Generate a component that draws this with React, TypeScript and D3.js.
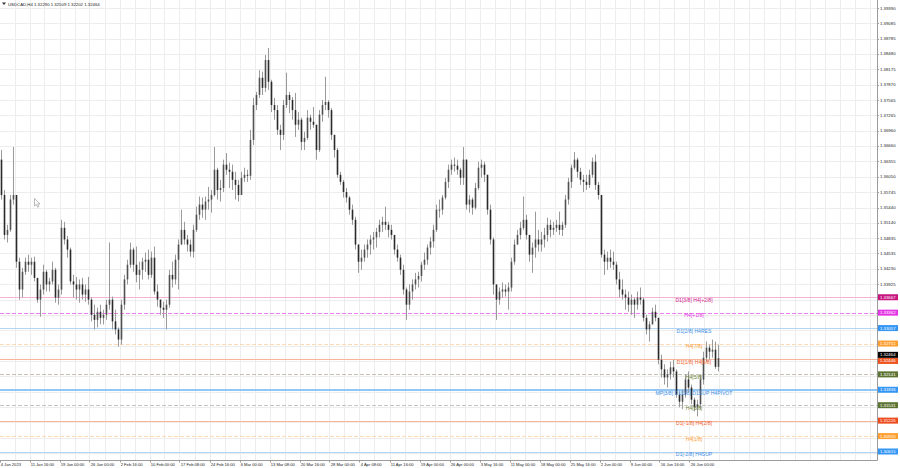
import React from "react";
import * as d3 from "d3";

// ---- OHLC data (H4 USDCAD, aggregated bars) ----
const firstOpen = 1.3639;
const highs = [
  1.3658, 1.3579, 1.3510, 1.3569, 1.3664, 1.3560, 1.3445, 1.3425, 1.3445, 1.3451,
  1.3445, 1.3447, 1.3402, 1.3392, 1.3431, 1.3421, 1.3405, 1.3437, 1.3425, 1.3392,
  1.3520, 1.3516, 1.3488, 1.3465, 1.3411, 1.3407, 1.3402, 1.3405, 1.3392, 1.3407,
  1.3366, 1.3352, 1.3346, 1.3352, 1.3342, 1.3362, 1.3475, 1.3368, 1.3342, 1.3307,
  1.3362, 1.3411, 1.3441, 1.3475, 1.3465, 1.3467, 1.3437, 1.3445, 1.3455, 1.3461,
  1.3457, 1.3467, 1.3392, 1.3362, 1.3358, 1.3362, 1.3421, 1.3437, 1.3451, 1.3481,
  1.3540, 1.3516, 1.3490, 1.3481, 1.3510, 1.3546, 1.3566, 1.3564, 1.3566, 1.3585,
  1.3579, 1.3664, 1.3623, 1.3599, 1.3639, 1.3652, 1.3633, 1.3629, 1.3615, 1.3599,
  1.3615, 1.3623, 1.3619, 1.3698, 1.3761, 1.3773, 1.3816, 1.3813, 1.3846, 1.3860,
  1.3797, 1.3761, 1.3747, 1.3708, 1.3757, 1.3811, 1.3773, 1.3763, 1.3771, 1.3733,
  1.3722, 1.3694, 1.3737, 1.3728, 1.3743, 1.3708, 1.3737, 1.3757, 1.3803, 1.3757,
  1.3741, 1.3688, 1.3662, 1.3615, 1.3599, 1.3583, 1.3567, 1.3550, 1.3526, 1.3471,
  1.3461, 1.3471, 1.3481, 1.3490, 1.3496, 1.3504, 1.3520, 1.3526, 1.3546, 1.3516,
  1.3510, 1.3490, 1.3471, 1.3451, 1.3431, 1.3386, 1.3392, 1.3402, 1.3415, 1.3417,
  1.3437, 1.3455, 1.3471, 1.3486, 1.3510, 1.3550, 1.3560, 1.3569, 1.3603, 1.3629,
  1.3639, 1.3643, 1.3639, 1.3623, 1.3664, 1.3639, 1.3569, 1.3564, 1.3593, 1.3635,
  1.3639, 1.3635, 1.3609, 1.3550, 1.3485, 1.3392, 1.3386, 1.3396, 1.3392, 1.3396,
  1.3445, 1.3481, 1.3500, 1.3516, 1.3566, 1.3530, 1.3490, 1.3475, 1.3536, 1.3500,
  1.3496, 1.3504, 1.3524, 1.3520, 1.3516, 1.3520, 1.3536, 1.3516, 1.3569, 1.3603,
  1.3629, 1.3654, 1.3643, 1.3623, 1.3609, 1.3609, 1.3619, 1.3643, 1.3649, 1.3595,
  1.3569, 1.3461, 1.3457, 1.3461, 1.3457, 1.3437, 1.3417, 1.3402, 1.3382, 1.3378,
  1.3372, 1.3366, 1.3378, 1.3386, 1.3366, 1.3332, 1.3319, 1.3346, 1.3352, 1.3326,
  1.3253, 1.3234, 1.3224, 1.3239, 1.3243, 1.3224, 1.3180, 1.3184, 1.3214, 1.3220,
  1.3194, 1.3168, 1.3164, 1.3214, 1.3259, 1.3279, 1.3273, 1.3283, 1.3279, 1.3273,
];
const lows = [
  1.3560, 1.3481, 1.3475, 1.3496, 1.3550, 1.3425, 1.3362, 1.3366, 1.3411, 1.3417,
  1.3411, 1.3398, 1.3356, 1.3328, 1.3372, 1.3378, 1.3378, 1.3392, 1.3356, 1.3352,
  1.3372, 1.3471, 1.3445, 1.3392, 1.3366, 1.3362, 1.3356, 1.3362, 1.3358, 1.3352,
  1.3319, 1.3303, 1.3307, 1.3313, 1.3313, 1.3322, 1.3342, 1.3303, 1.3293, 1.3269,
  1.3273, 1.3342, 1.3392, 1.3425, 1.3417, 1.3396, 1.3382, 1.3402, 1.3417, 1.3402,
  1.3405, 1.3372, 1.3348, 1.3332, 1.3326, 1.3303, 1.3346, 1.3386, 1.3392, 1.3382,
  1.3471, 1.3471, 1.3457, 1.3447, 1.3445, 1.3496, 1.3520, 1.3524, 1.3520, 1.3540,
  1.3534, 1.3566, 1.3560, 1.3556, 1.3575, 1.3609, 1.3583, 1.3579, 1.3560, 1.3556,
  1.3569, 1.3595, 1.3595, 1.3599, 1.3668, 1.3737, 1.3761, 1.3767, 1.3773, 1.3777,
  1.3733, 1.3718, 1.3688, 1.3658, 1.3678, 1.3741, 1.3731, 1.3718, 1.3684, 1.3698,
  1.3658, 1.3658, 1.3678, 1.3698, 1.3702, 1.3639, 1.3654, 1.3714, 1.3737, 1.3722,
  1.3678, 1.3643, 1.3603, 1.3589, 1.3564, 1.3554, 1.3530, 1.3510, 1.3461, 1.3415,
  1.3421, 1.3437, 1.3445, 1.3451, 1.3461, 1.3465, 1.3485, 1.3496, 1.3500, 1.3485,
  1.3481, 1.3451, 1.3437, 1.3411, 1.3372, 1.3322, 1.3342, 1.3362, 1.3382, 1.3386,
  1.3398, 1.3421, 1.3431, 1.3451, 1.3465, 1.3496, 1.3524, 1.3530, 1.3560, 1.3583,
  1.3609, 1.3615, 1.3609, 1.3589, 1.3589, 1.3540, 1.3534, 1.3530, 1.3540, 1.3579,
  1.3603, 1.3595, 1.3530, 1.3471, 1.3372, 1.3322, 1.3352, 1.3366, 1.3368, 1.3342,
  1.3378, 1.3431, 1.3471, 1.3481, 1.3500, 1.3481, 1.3437, 1.3415, 1.3445, 1.3457,
  1.3457, 1.3465, 1.3477, 1.3485, 1.3490, 1.3496, 1.3490, 1.3488, 1.3504, 1.3550,
  1.3583, 1.3619, 1.3603, 1.3589, 1.3575, 1.3579, 1.3583, 1.3603, 1.3579, 1.3560,
  1.3445, 1.3411, 1.3421, 1.3425, 1.3421, 1.3392, 1.3366, 1.3362, 1.3342, 1.3338,
  1.3332, 1.3326, 1.3342, 1.3352, 1.3319, 1.3293, 1.3279, 1.3313, 1.3319, 1.3234,
  1.3208, 1.3194, 1.3188, 1.3204, 1.3208, 1.3168, 1.3149, 1.3145, 1.3168, 1.3180,
  1.3155, 1.3141, 1.3131, 1.3145, 1.3194, 1.3239, 1.3243, 1.3247, 1.3225, 1.3220,
];
const closes = [
  1.3569, 1.3490, 1.3500, 1.3560, 1.3569, 1.3437, 1.3382, 1.3417, 1.3437, 1.3431,
  1.3437, 1.3405, 1.3362, 1.3382, 1.3417, 1.3392, 1.3398, 1.3421, 1.3366, 1.3382,
  1.3504, 1.3481, 1.3461, 1.3398, 1.3392, 1.3382, 1.3392, 1.3372, 1.3382, 1.3362,
  1.3332, 1.3322, 1.3338, 1.3326, 1.3332, 1.3352, 1.3362, 1.3319, 1.3303, 1.3283,
  1.3352, 1.3402, 1.3431, 1.3461, 1.3431, 1.3411, 1.3421, 1.3437, 1.3441, 1.3411,
  1.3445, 1.3378, 1.3362, 1.3346, 1.3342, 1.3352, 1.3411, 1.3402, 1.3441, 1.3471,
  1.3500, 1.3481, 1.3471, 1.3457, 1.3500, 1.3530, 1.3550, 1.3540, 1.3556, 1.3560,
  1.3569, 1.3619, 1.3579, 1.3583, 1.3629, 1.3619, 1.3615, 1.3599, 1.3589, 1.3569,
  1.3603, 1.3609, 1.3607, 1.3678, 1.3747, 1.3767, 1.3801, 1.3781, 1.3836, 1.3793,
  1.3747, 1.3737, 1.3698, 1.3688, 1.3747, 1.3767, 1.3757, 1.3737, 1.3708, 1.3718,
  1.3674, 1.3682, 1.3722, 1.3714, 1.3708, 1.3658, 1.3728, 1.3747, 1.3753, 1.3737,
  1.3688, 1.3658, 1.3609, 1.3595, 1.3575, 1.3564, 1.3540, 1.3520, 1.3471, 1.3437,
  1.3445, 1.3461, 1.3471, 1.3481, 1.3485, 1.3496, 1.3510, 1.3516, 1.3510, 1.3500,
  1.3490, 1.3461, 1.3445, 1.3421, 1.3382, 1.3352, 1.3378, 1.3392, 1.3402, 1.3409,
  1.3431, 1.3441, 1.3465, 1.3477, 1.3500, 1.3540, 1.3540, 1.3564, 1.3595, 1.3619,
  1.3629, 1.3627, 1.3619, 1.3603, 1.3639, 1.3550, 1.3560, 1.3544, 1.3583, 1.3623,
  1.3629, 1.3609, 1.3540, 1.3481, 1.3392, 1.3362, 1.3378, 1.3382, 1.3378, 1.3386,
  1.3437, 1.3471, 1.3490, 1.3504, 1.3520, 1.3490, 1.3451, 1.3465, 1.3481, 1.3471,
  1.3481, 1.3490, 1.3510, 1.3500, 1.3504, 1.3510, 1.3500, 1.3510, 1.3560, 1.3595,
  1.3623, 1.3639, 1.3615, 1.3599, 1.3595, 1.3589, 1.3609, 1.3635, 1.3589, 1.3569,
  1.3451, 1.3437, 1.3445, 1.3437, 1.3431, 1.3402, 1.3382, 1.3372, 1.3366, 1.3352,
  1.3362, 1.3352, 1.3366, 1.3362, 1.3326, 1.3303, 1.3313, 1.3338, 1.3326, 1.3243,
  1.3224, 1.3208, 1.3214, 1.3228, 1.3220, 1.3174, 1.3160, 1.3174, 1.3204, 1.3188,
  1.3164, 1.3149, 1.3155, 1.3204, 1.3247, 1.3267, 1.3259, 1.3263, 1.3229, 1.32464,
];
const opens = [firstOpen, ...closes.slice(0, -1)];

// ---- price axis ----
const priceTicks = [
  1.3939, 1.39085, 1.38785, 1.3848, 1.38175, 1.3787, 1.37565, 1.37265, 1.3696, 1.3666,
  1.36355, 1.3605, 1.35745, 1.3544, 1.3514, 1.34835, 1.34535, 1.3423, 1.33925,
];
const hiddenGridPrices = [
  1.3362, 1.33315, 1.33015, 1.3271, 1.32405, 1.321, 1.318, 1.31495, 1.3119, 1.30885, 1.30585,
];

// ---- time axis ----
const timeLabels = [
  "4 Jan 2023", "11 Jan 16:00", "19 Jan 00:00", "26 Jan 00:00", "2 Feb 16:00", "10 Feb 00:00",
  "17 Feb 08:00", "24 Feb 16:00", "6 Mar 00:00", "13 Mar 08:00", "20 Mar 16:00", "28 Mar 00:00",
  "4 Apr 08:00", "11 Apr 16:00", "19 Apr 00:00", "26 Apr 00:00", "3 May 16:00", "11 May 00:00",
  "18 May 00:00", "25 May 16:00", "2 Jun 00:00", "9 Jun 00:00", "16 Jun 16:00", "26 Jun 00:00",
];
const timeLabelBars = [
  0, 10, 20, 30, 40, 50, 60, 70, 80, 90, 100, 110, 120, 130, 140, 150, 160, 170, 180, 190, 200,
  210, 220, 230,
];

// ---- Murrey levels ----
const levelValues = [
  1.33667, 1.33362, 1.33057, 1.32751, 1.32446, 1.32141, 1.31836, 1.31531, 1.31226, 1.3092, 1.30615,
];
const levelNames = [
  "D1[3/8] H4[+2/8]", "H4[+1/8]", "D1[2/8] H4RES", "H4[7/8]", "D1[1/8] H4[6/8]", "H4[5/8]",
  "MP[3/8] D1[0/8] D1SUP H4PIVOT", "H4[3/8]", "D1[-1/8] H4[2/8]", "H4[1/8]", "D1[-2/8] H4SUP",
];
const headerText = "USDCAD,H4  1.32290 1.32509 1.32202 1.32464";
const currentPrice = 1.32464;

// styles (kept apart from the data)
const levelLineColors = [
  "#f6b3da", "#f07cf0", "#b3d4f5", "#fdd9b5", "#f9b49c", "#c6c0b2",
  "#93c5f5", "#c4c4c4", "#f9b49c", "#fdd9b5", "#b3d4f5",
];
const levelTextColors = [
  "#d0168a", "#e32ee3", "#3d8fe6", "#ff9d33", "#f2602a", "#6b7f35",
  "#3a8ee8", "#6b7f35", "#f2602a", "#ff9d33", "#3d8fe6",
];
const levelBoxColors = [
  "#c8157f", "#e436e4", "#3597f5", "#ffa033", "#ee5420", "#5d7433",
  "#3597f5", "#5d7433", "#ee4c1e", "#ffa033", "#3597f5",
];
const levelDashed = [false, true, false, true, false, true, false, true, false, true, false];
const levelWidths = [1, 1, 1, 1, 1, 1, 2, 1, 1, 1, 1];
const levelBoxShift = [0, 0, 0, 0, 2, 0, 0, 0, 0, 0, 0];

export default function App() {
  const W = 900;
  const H = 468;
  const plotRight = 877;
  const plotBottom = 460;
  const font = "Tahoma, 'Liberation Sans', Arial, sans-serif";

  const x = d3.scaleLinear().domain([0, closes.length - 1]).range([1, 718]);
  const y = d3.scaleLinear().domain([1.30615, 1.3939]).range([451.5, 8]);
  const px = (v: number) => Math.round(v) + 0.5;

  const vGrid = d3.range(1, 59).map((j) => x(5 * j) - 1.5);
  const allGrid = [...priceTicks, ...hiddenGridPrices];

  return (
    <svg
      width={W}
      height={H}
      style={{ position: "absolute", left: 0, top: 0, display: "block", background: "#fff" }}
      fontFamily={font}
    >
      <rect x={0} y={0} width={W} height={H} fill="#fff" />
      {/* grid */}
      <g stroke="#ededed" strokeWidth={1}>
        {vGrid.map((gx, i) => (
          <line key={"vg" + i} x1={px(gx)} x2={px(gx)} y1={0} y2={plotBottom} />
        ))}
        {allGrid.map((p, i) => (
          <line key={"hg" + i} x1={0} x2={plotRight} y1={px(y(p))} y2={px(y(p))} />
        ))}
      </g>

      {/* level lines */}
      {levelValues.map((v, i) => (
        <line
          key={"lv" + i}
          x1={0}
          x2={plotRight}
          y1={levelWidths[i] === 2 ? Math.round(y(v)) : px(y(v))}
          y2={levelWidths[i] === 2 ? Math.round(y(v)) : px(y(v))}
          stroke={levelLineColors[i]}
          strokeWidth={levelWidths[i]}
          strokeDasharray={levelDashed[i] ? "4,2" : undefined}
        />
      ))}

      {/* candles */}
      <g>
        {closes.map((c, i) => {
          const o = opens[i];
          const hi = Math.max(highs[i], o, c);
          const lo = Math.min(lows[i], o, c);
          const cx = px(x(i));
          const yo = y(o);
          const yc = y(c);
          const top = Math.min(yo, yc);
          const h = Math.max(1, Math.abs(yo - yc));
          return (
            <g key={"c" + i}>
              <line x1={cx} x2={cx} y1={y(hi)} y2={y(lo)} stroke="#9a9a9a" strokeWidth={1} />
              <rect
                x={cx - 0.8}
                y={top}
                width={1.6}
                height={h}
                fill={c < o ? "#2a2a2a" : "#505050"}
              />
            </g>
          );
        })}
      </g>

      {/* level texts */}
      {levelValues.map((v, i) => (
        <text
          key={"lt" + i}
          x={694}
          y={y(v) + 0.8}
          fontSize={5.1}
          fill={levelTextColors[i]}
          textAnchor="middle"
          dominantBaseline="hanging"
        >
          {levelNames[i]}
        </text>
      ))}

      {/* mouse cursor */}
      <path
        d="M34.5,198.5 L34.5,206 L36.3,204.4 L37.6,207.2 L38.8,206.6 L37.6,203.9 L40,203.9 Z"
        fill="#fff"
        stroke="#777"
        strokeWidth={0.5}
      />

      {/* frame */}
      <rect x={plotRight} y={0} width={W - plotRight} height={H} fill="#fff" />
      <rect x={0} y={plotBottom} width={W} height={H - plotBottom} fill="#fff" />
      <line x1={plotRight + 0.5} x2={plotRight + 0.5} y1={0} y2={plotBottom + 0.5} stroke="#9c9c9c" />
      <line x1={0} x2={plotRight + 0.5} y1={plotBottom + 0.5} y2={plotBottom + 0.5} stroke="#9c9c9c" />

      {/* price labels */}
      {priceTicks.map((p, i) => (
        <g key={"pt" + i}>
          <line x1={plotRight} x2={plotRight + 2} y1={px(y(p))} y2={px(y(p))} stroke="#9c9c9c" />
          <text x={880} y={y(p)} fontSize={4.3} fill="#222" dominantBaseline="central">
            {p.toFixed(5)}
          </text>
        </g>
      ))}

      {/* level price boxes */}
      {levelValues.map((v, i) => (
        <g key={"lb" + i}>
          <rect x={878} y={y(v) - 3 + levelBoxShift[i]} width={20} height={6} fill={levelBoxColors[i]} />
          <text
            x={880}
            y={y(v) + levelBoxShift[i]}
            fontSize={4.3}
            fill="#fff"
            dominantBaseline="central"
          >
            {v.toFixed(5)}
          </text>
        </g>
      ))}
      <g>
        <rect x={878} y={y(currentPrice) - 6.2} width={20} height={6} fill="#000" />
        <text x={880} y={y(currentPrice) - 3.2} fontSize={4.3} fill="#fff" dominantBaseline="central">
          {currentPrice.toFixed(5)}
        </text>
      </g>

      {/* time labels */}
      {timeLabels.map((t, i) => {
        const tx = x(timeLabelBars[i]);
        return (
          <g key={"tl" + i}>
            <line x1={px(tx - 1.5)} x2={px(tx - 1.5)} y1={plotBottom} y2={plotBottom + 2.5} stroke="#9c9c9c" />
            <text x={tx - 0.3} y={464} fontSize={4.1} fill="#222" dominantBaseline="central">
              {t}
            </text>
          </g>
        );
      })}

      {/* header */}
      <path d="M2,2.5 L6,2.5 L4,5 Z" fill="#333" />
      <text x={8} y={4} fontSize={4.3} fill="#222" dominantBaseline="central">
        {headerText}
      </text>
    </svg>
  );
}
